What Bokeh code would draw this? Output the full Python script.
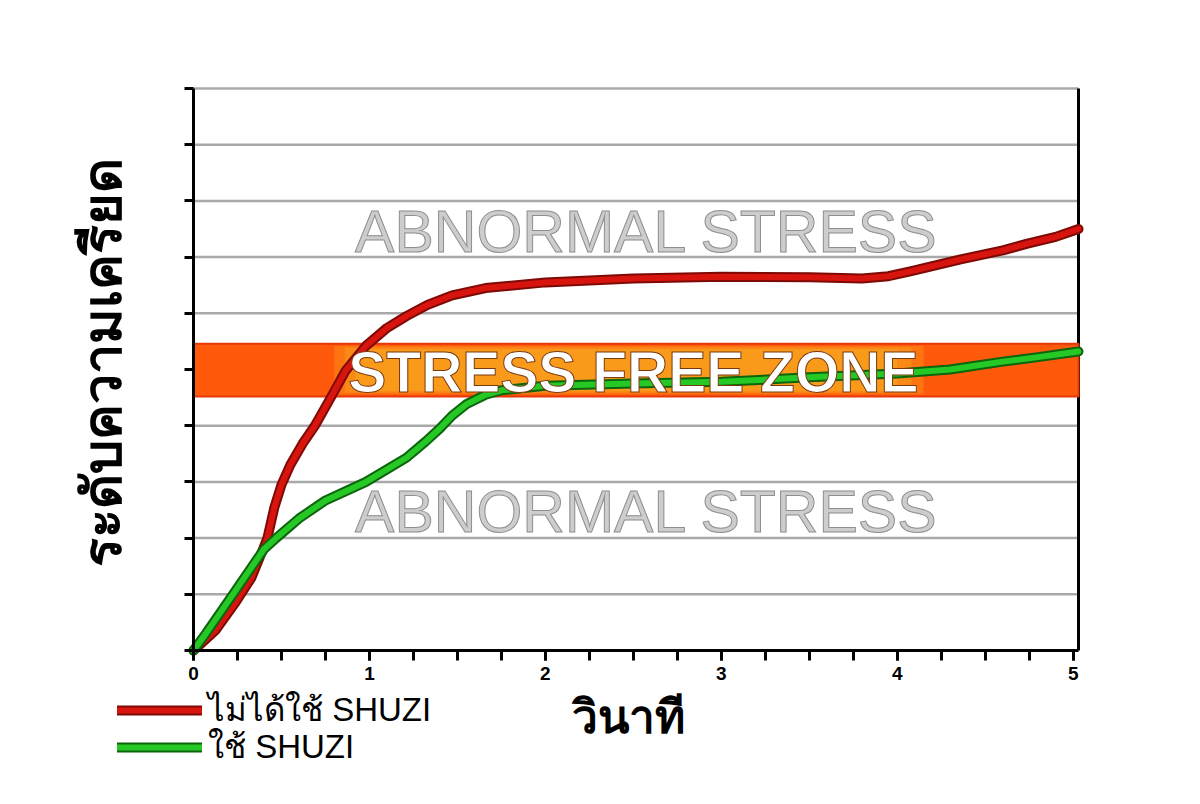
import math
from bokeh.plotting import figure
from bokeh.models import (Range1d, FixedTicker, Legend, LegendItem, ColumnDataSource)
from bokeh.core.properties import value
from bokeh.embed import file_html
from bokeh.resources import INLINE

# ---------------- data ----------------
red_x = [0, 0.125, 0.24, 0.33, 0.40, 0.42, 0.46, 0.50, 0.55, 0.62, 0.69, 0.78, 0.865,
         0.98, 1.1, 1.21, 1.33, 1.47, 1.66, 2.0, 2.5, 3.0, 3.5, 3.8, 3.95, 4.08, 4.36,
         4.6, 4.74, 4.9, 5.03]
red_y = [0, 0.36, 0.86, 1.3, 1.84, 2.0, 2.55, 2.95, 3.3, 3.68, 4.0, 4.5, 4.98,
         5.42, 5.74, 5.95, 6.15, 6.32, 6.45, 6.55, 6.62, 6.65, 6.64, 6.62, 6.66, 6.75, 6.96,
         7.12, 7.24, 7.36, 7.5]

green_x = [0, 0.07, 0.24, 0.40, 0.47, 0.60, 0.75, 0.98, 1.21, 1.32, 1.40, 1.47, 1.55,
           1.66, 1.75, 2.0, 2.5, 3.0, 3.5, 4.0, 4.3, 4.6, 4.8, 5.03]
green_y = [0, 0.3, 1.07, 1.8, 2.0, 2.35, 2.67, 3.0, 3.43, 3.72, 3.95, 4.18, 4.38,
           4.55, 4.63, 4.71, 4.75, 4.78, 4.86, 4.93, 5.0, 5.14, 5.22, 5.32]

band_bottom = 4.52
band_top = 5.46
x_major = [0, 1, 2, 3, 4, 5]
x_minor = [i * 0.25 for i in range(21)]
y_ticks = list(range(11))

label_red = "ไม่ได้ใช้ SHUZI"
label_green = "ใช้ SHUZI"
zone_text = "STRESS FREE ZONE"
abnormal_text = "ABNORMAL STRESS"
x_title = "วินาที"
y_title = "ระดับความเครียด"
X_END = 5.03
Y_END = 10

RED_DARK, RED = "#7e0a06", "#d8140e"
GRN_DARK, GRN = "#0c650c", "#25c825"

# ---------------- layout geometry (pixels) ----------------
W, H = 1184, 804
FL, FR, FT, FB = 12, W, 4, H - 38          # frame edges
AX_L, AX_R, AX_T, AX_B = 193, 1078, 88, 650  # chart box
sx = (AX_R - AX_L) / X_END
sy = (AX_B - AX_T) / Y_END
x_rng = Range1d(-(AX_L - FL) / sx, X_END + (FR - AX_R) / sx)
y_rng = Range1d(-(FB - AX_B) / sy, Y_END + (AX_T - FT) / sy)

p = figure(width=W, height=H, output_backend="svg", toolbar_location=None,
           title=None, x_range=x_rng, y_range=y_rng,
           min_border_left=FL, min_border_right=0,
           min_border_top=FT, min_border_bottom=H - FB)
p.background_fill_color = "white"
p.border_fill_color = "white"
p.outline_line_color = None
p.grid.visible = False

# grid lines across the chart box only
p.segment(x0=[0] * len(y_ticks), x1=[X_END] * len(y_ticks), y0=y_ticks, y1=y_ticks,
          line_color="#a9a9a9", line_width=2.5)
# right border
p.segment(x0=[X_END], x1=[X_END], y0=[0], y1=[Y_END], line_color="black", line_width=3)

# axes pinned to the chart box
p.xaxis.fixed_location = 0
p.xaxis.bounds = (0, X_END)
p.xaxis.ticker = FixedTicker(ticks=x_major, minor_ticks=x_minor)
p.xaxis.axis_line_width = 3
p.xaxis.axis_line_color = "black"
p.xaxis.major_tick_line_width = 3
p.xaxis.minor_tick_line_width = 3
p.xaxis.major_tick_out = 10
p.xaxis.major_tick_in = 0
p.xaxis.minor_tick_out = 10
p.xaxis.minor_tick_in = 0
p.xaxis.major_label_text_font = "Liberation Sans"
p.xaxis.major_label_text_font_style = "bold"
p.xaxis.major_label_text_font_size = "19px"
p.xaxis.major_label_text_color = "black"
p.xaxis.major_label_standoff = 6

p.yaxis.fixed_location = 0
p.yaxis.bounds = (0, Y_END)
p.yaxis.ticker = FixedTicker(ticks=y_ticks)
p.yaxis.axis_line_width = 3
p.yaxis.axis_line_color = "black"
p.yaxis.major_tick_line_width = 3
p.yaxis.major_tick_out = 9
p.yaxis.major_tick_in = 0
p.yaxis.minor_tick_line_color = None
p.yaxis.major_label_overrides = {t: "" for t in y_ticks}
p.yaxis.major_label_text_font_size = "1px"
p.yaxis.major_label_standoff = 0

# stress-free band with glow
p.quad(left=[0], right=[X_END], bottom=[band_bottom], top=[band_top],
       fill_color="#ff5a0c", line_color="#e8380a", line_width=2)
glow = [(0.80, 4.15, 0.04, 0.35), (0.86, 4.08, 0.07, 0.45), (0.92, 4.0, 0.1, 0.6)]
for l, r, inset, a in glow:
    p.quad(left=[l], right=[r], bottom=[band_bottom + inset], top=[band_top - inset],
           fill_color="#f8a51e", fill_alpha=a, line_color=None)

# curves
src_r = ColumnDataSource(dict(x=red_x, y=red_y))
src_g = ColumnDataSource(dict(x=green_x, y=green_y))
rr = []
for src, dark, light in [(src_r, RED_DARK, RED), (src_g, GRN_DARK, GRN)]:
    o = p.line("x", "y", source=src, line_color=dark, line_width=10,
               line_join="round", line_cap="round")
    c = p.line("x", "y", source=src, line_color=light, line_width=6,
               line_join="round", line_cap="round")
    rr.append([o, c])

# zone texts
p.text(x=[2.577, 2.577], y=[7.44, 2.46], text=[abnormal_text, abnormal_text],
       text_font=value("Liberation Sans"), text_font_size="59px",
       text_color="#cdcdcd", text_outline_color="#8e8e8e",
       text_align="center", text_baseline="middle")
p.text(x=[2.5], y=[4.95], text=[zone_text],
       text_font=value("Liberation Sans"), text_font_style="bold",
       text_font_size="57px", text_color="white", text_outline_color="#7a3a10",
       text_align="center", text_baseline="middle")

# axis titles
p.text(x=[(101 - AX_L) / sx], y=[(AX_B - 362) / sy], text=[y_title], angle=math.pi / 2,
       text_font=value("Liberation Sans"), text_font_style="bold",
       text_font_size="54px", text_color="black",
       text_align="center", text_baseline="middle")
p.text(x=[(628 - AX_L) / sx], y=[(AX_B - 716) / sy], text=[x_title],
       text_font=value("Liberation Sans"), text_font_style="bold",
       text_font_size="46px", text_color="black",
       text_align="center", text_baseline="middle")

# legend: one box per entry so the rows sit exactly where the reference has them
for (lab, rends), center in [((label_red, rr[0]), 712), ((label_green, rr[1]), 749)]:
    lg = Legend(items=[LegendItem(label=lab, renderers=rends)],
                location=(117 - FL, FB - (center + 24)), orientation="vertical",
                glyph_width=85, glyph_height=30, padding=0, margin=0,
                label_standoff=6, label_text_font="Liberation Sans",
                label_text_font_size="33px", label_text_color="black",
                border_line_color=None, background_fill_alpha=0)
    p.add_layout(lg)

open("out.html", "w").write(file_html(p, INLINE))
